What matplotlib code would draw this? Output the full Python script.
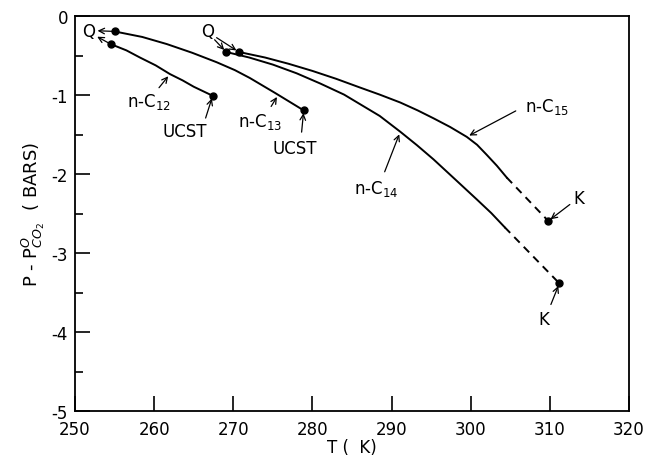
import matplotlib
matplotlib.use("Agg")
import matplotlib.pyplot as plt
from matplotlib.ticker import MultipleLocator

# curves (T in K, P - P0 in bars)
t_c12 = [254.5, 256.5, 258.2, 260.2, 262.0, 263.6, 265.0, 267.4]
p_c12 = [-0.35, -0.43, -0.52, -0.62, -0.73, -0.81, -0.89, -1.005]

t_c13 = [255.0, 258.5, 261.6, 264.8, 267.9, 270.2, 272.1, 275.3, 278.9]
p_c13 = [-0.19, -0.26, -0.35, -0.46, -0.58, -0.68, -0.78, -0.97, -1.19]

t_c14 = [269.1, 272.0, 275.0, 278.0, 281.0, 284.0, 286.0, 288.5, 291.1, 293.2, 295.3, 298.0, 300.8, 302.6, 304.3]
p_c14 = [-0.45, -0.52, -0.61, -0.72, -0.85, -0.99, -1.11, -1.26, -1.46, -1.63, -1.81, -2.06, -2.32, -2.49, -2.67]
t_c14_ext = [304.3, 311.2]
p_c14_ext = [-2.67, -3.38]

t_c15 = [270.7, 274.0, 277.0, 280.0, 283.0, 286.0, 288.5, 291.1, 293.3, 295.3, 297.4, 299.5, 300.8, 302.0, 303.3, 304.55]
p_c15 = [-0.45, -0.52, -0.60, -0.69, -0.79, -0.90, -0.99, -1.09, -1.19, -1.29, -1.40, -1.525, -1.625, -1.75, -1.89, -2.04]
t_c15_ext = [304.55, 309.8]
p_c15_ext = [-2.04, -2.59]

plt.rcParams['font.family'] = ['DejaVu Sans']

fig = plt.figure(figsize=(6.48, 4.56), dpi=100)
ax = fig.add_axes([0.1157, 0.0958, 0.855, 0.866])

lw = 1.4
ax.plot(t_c12, p_c12, color='black', lw=lw)
ax.plot(t_c13, p_c13, color='black', lw=lw)
ax.plot(t_c14, p_c14, color='black', lw=lw)
ax.plot(t_c15, p_c15, color='black', lw=lw)
ax.plot(t_c14_ext, p_c14_ext, color='black', lw=lw, ls=(0, (4, 3)))
ax.plot(t_c15_ext, p_c15_ext, color='black', lw=lw, ls=(0, (4, 3)))

# end points
ends_t = [t_c12[0], t_c12[-1], t_c13[0], t_c13[-1], t_c14[0], t_c15[0], t_c14_ext[-1], t_c15_ext[-1]]
ends_p = [p_c12[0], p_c12[-1], p_c13[0], p_c13[-1], p_c14[0], p_c15[0], p_c14_ext[-1], p_c15_ext[-1]]
ax.plot(ends_t, ends_p, 'o', color='black', ms=5)

fs = 12
arr = dict(arrowstyle='->', color='black', lw=0.9, shrinkA=2, shrinkB=2)

# Q labels
ax.text(251.7, -0.18, 'Q', fontsize=fs, ha='center', va='center')
ax.annotate('', xy=(252.5, -0.18), xytext=(t_c13[0], p_c13[0]), arrowprops=arr)
ax.annotate('', xy=(252.5, -0.24), xytext=(t_c12[0], p_c12[0]), arrowprops=arr)
ax.text(266.8, -0.18, 'Q', fontsize=fs, ha='center', va='center')
ax.annotate('', xy=(t_c14[0], p_c14[0]), xytext=(267.4, -0.27), arrowprops=arr)
ax.annotate('', xy=(t_c15[0], p_c15[0]), xytext=(267.6, -0.25), arrowprops=arr)

# curve labels
ax.text(259.3, -1.07, 'n-C$_{12}$', fontsize=fs, ha='center', va='center')
ax.annotate('', xy=(262.0, -0.73), xytext=(260.4, -0.93), arrowprops=arr)
ax.text(263.9, -1.45, 'UCST', fontsize=fs, ha='center', va='center')
ax.annotate('', xy=(t_c12[-1], p_c12[-1]), xytext=(266.4, -1.32), arrowprops=arr)

ax.text(273.4, -1.32, 'n-C$_{13}$', fontsize=fs, ha='center', va='center')
ax.annotate('', xy=(275.7, -0.99), xytext=(274.6, -1.17), arrowprops=arr)
ax.text(277.8, -1.66, 'UCST', fontsize=fs, ha='center', va='center')
ax.annotate('', xy=(t_c13[-1], p_c13[-1]), xytext=(278.6, -1.50), arrowprops=arr)

ax.text(309.6, -1.13, 'n-C$_{15}$', fontsize=fs, ha='center', va='center')
ax.annotate('', xy=(299.5, -1.525), xytext=(306.0, -1.18), arrowprops=arr)
ax.text(288.1, -2.17, 'n-C$_{14}$', fontsize=fs, ha='center', va='center')
ax.annotate('', xy=(291.1, -1.46), xytext=(289.0, -2.0), arrowprops=arr)

ax.text(313.6, -2.30, 'K', fontsize=fs, ha='center', va='center')
ax.annotate('', xy=(t_c15_ext[-1], p_c15_ext[-1]), xytext=(312.8, -2.36), arrowprops=arr)
ax.text(309.2, -3.83, 'K', fontsize=fs, ha='center', va='center')
ax.annotate('', xy=(t_c14_ext[-1], p_c14_ext[-1]), xytext=(310.0, -3.68), arrowprops=arr)

ax.set_xlim(250, 320)
ax.set_ylim(-5, 0)
ax.xaxis.set_major_locator(MultipleLocator(10))
ax.yaxis.set_major_locator(MultipleLocator(1))
ax.yaxis.set_minor_locator(MultipleLocator(0.5))
ax.tick_params(axis='both', which='major', direction='in', length=11, width=1.2, labelsize=fs)
ax.tick_params(axis='x', which='major', pad=6)
ax.tick_params(axis='y', which='major', pad=5)
ax.tick_params(axis='y', which='minor', direction='in', length=6, width=1.2)
ax.tick_params(top=False, right=False)
ax.set_yticks([0, -1, -2, -3, -4, -5])
ax.set_yticklabels(['0', '-1', '-2', '-3', '-4', '-5'])
for s in ax.spines.values():
    s.set_linewidth(1.3)

ax.set_xlabel('T (  K)', fontsize=fs, labelpad=0)
ax.set_ylabel('P - P$^{O}_{CO_2}$  ( BARS)', fontsize=13, labelpad=3)

fig.savefig('out.png', dpi=100)
